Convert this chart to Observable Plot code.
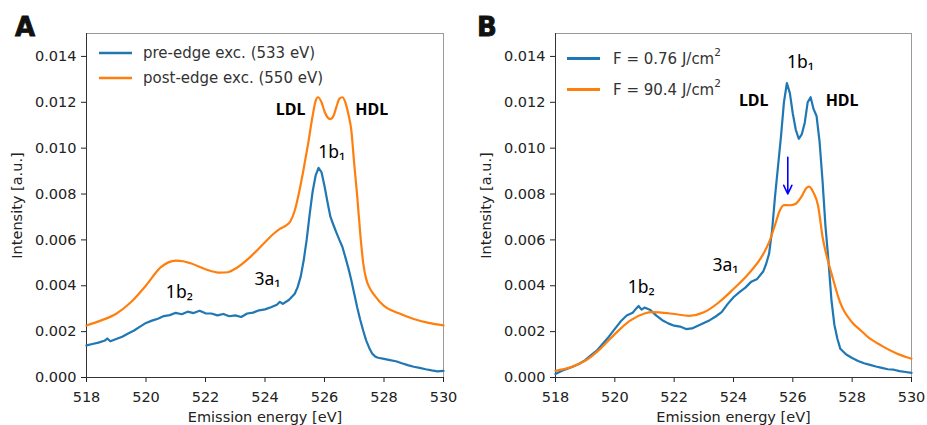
<!DOCTYPE html>
<html><head><meta charset="utf-8">
<script src="https://cdn.jsdelivr.net/npm/d3@7"></script>
<script src="https://cdn.jsdelivr.net/npm/@observablehq/plot@0.6"></script>
<style>
html,body{margin:0;padding:0;background:#fff;}
#wrap{position:relative;width:927px;height:425px;overflow:hidden;}
.pan{position:absolute;top:0;}
#ov{position:absolute;left:0;top:0;pointer-events:none;}
</style></head><body>
<div id="wrap">
<div id="pa" class="pan" style="left:0px"></div>
<div id="pb" class="pan" style="left:463px"></div>
<svg id="ov" width="927" height="425" font-family="DejaVu Sans, sans-serif">
  <text x="15" y="36" font-weight="bold" font-size="26" fill="#111" stroke="#111" stroke-width="0.8">A</text>
  <text x="477" y="36" font-weight="bold" font-size="26" fill="#111" stroke="#111" stroke-width="0.8">B</text>
  <line x1="99" x2="132" y1="53" y2="53" stroke="#1f77b4" stroke-width="2.5"/>
  <text x="143" y="53" dominant-baseline="central" font-size="15" fill="#333">pre-edge exc. (533 eV)</text>
  <line x1="99" x2="132" y1="78" y2="78" stroke="#ff7f0e" stroke-width="2.5"/>
  <text x="143" y="78" dominant-baseline="central" font-size="15" fill="#333">post-edge exc. (550 eV)</text>
  <line x1="567" x2="600" y1="58.5" y2="58.5" stroke="#1f77b4" stroke-width="3"/>
  <text x="613" y="58.5" dominant-baseline="central" font-size="15" fill="#333">F = 0.76 J/cm<tspan dy="-7" font-size="10.5">2</tspan></text>
  <line x1="567" x2="600" y1="89.5" y2="89.5" stroke="#ff7f0e" stroke-width="3"/>
  <text x="613" y="89.5" dominant-baseline="central" font-size="15" fill="#333">F = 90.4 J/cm<tspan dy="-7" font-size="10.5">2</tspan></text>
</svg>
</div>
<script>
// ---- ticks ----
const xTicks = [518, 520, 522, 524, 526, 528, 530];
const yTicks = [0, 0.002, 0.004, 0.006, 0.008, 0.010, 0.012, 0.014];

// ---- Panel A: pre-edge excitation (533 eV) ----
const aPreE = [518.0,518.2,518.4,518.6,518.7,518.8,519.0,519.2,519.4,519.6,519.8,520.0,520.2,520.4,520.6,520.8,521.0,521.2,521.4,521.6,521.8,522.0,522.2,522.4,522.6,522.8,523.0,523.2,523.4,523.6,523.8,524.0,524.2,524.4,524.5,524.6,524.8,525.0,525.1,525.2,525.3,525.4,525.5,525.6,525.7,525.8,525.9,526.0,526.1,526.2,526.3,526.4,526.5,526.6,526.7,526.8,526.9,527.0,527.1,527.2,527.3,527.4,527.5,527.6,527.7,527.8,528.0,528.2,528.4,528.6,528.8,529.0,529.2,529.4,529.6,529.8,530.0];
const aPreI = [0.00140,0.00146,0.00152,0.00160,0.00170,0.00158,0.00168,0.00178,0.00192,0.00205,0.00222,0.00238,0.00248,0.00256,0.00268,0.00272,0.00282,0.00276,0.00287,0.00281,0.00291,0.00280,0.00279,0.00271,0.00277,0.00267,0.00271,0.00264,0.00279,0.00283,0.00293,0.00297,0.00306,0.00317,0.00330,0.00321,0.00338,0.00365,0.00395,0.00440,0.00510,0.00600,0.00710,0.00810,0.00880,0.00914,0.00895,0.00835,0.00765,0.00700,0.00665,0.00632,0.00600,0.00570,0.00525,0.00478,0.00425,0.00365,0.00305,0.00252,0.00205,0.00162,0.00130,0.00105,0.00092,0.00086,0.00081,0.00076,0.00071,0.00062,0.00054,0.00047,0.00042,0.00036,0.00031,0.00027,0.00029];

// ---- Panel A: post-edge excitation (550 eV) ----
const aPostE = [518.0,518.5,519.0,519.5,520.0,520.5,520.75,521.0,521.25,521.5,522.0,522.5,522.75,523.0,523.5,524.0,524.3,524.5,524.7,524.85,525.0,525.15,525.3,525.45,525.6,525.7,525.78,525.9,526.0,526.1,526.2,526.3,526.4,526.5,526.6,526.7,526.8,526.9,527.0,527.1,527.2,527.3,527.4,527.5,527.7,528.0,528.5,529.0,529.5,530.0];
const aPostI = [0.00227,0.00249,0.00278,0.00329,0.00401,0.00481,0.00502,0.00510,0.00507,0.00498,0.00472,0.00457,0.00459,0.00474,0.00525,0.00590,0.00628,0.00648,0.00662,0.00680,0.00728,0.00810,0.00910,0.01020,0.01140,0.01205,0.01222,0.01200,0.01160,0.01135,0.01127,0.01140,0.01180,0.01215,0.01222,0.01200,0.01150,0.01080,0.00930,0.00790,0.00630,0.00500,0.00430,0.00395,0.00355,0.00312,0.00280,0.00255,0.00238,0.00227];

// ---- Panel B: F = 0.76 J/cm2 ----
const bLowE = [518.0,518.2,518.4,518.6,518.8,519.0,519.2,519.4,519.6,519.8,520.0,520.2,520.4,520.6,520.7,520.8,520.9,521.0,521.2,521.4,521.6,521.8,522.0,522.2,522.4,522.6,522.8,523.0,523.2,523.4,523.6,523.8,524.0,524.2,524.4,524.6,524.8,525.0,525.1,525.2,525.3,525.4,525.5,525.6,525.7,525.8,525.9,526.0,526.1,526.2,526.3,526.4,526.5,526.6,526.7,526.8,526.9,527.0,527.1,527.2,527.3,527.4,527.5,527.6,527.8,528.0,528.2,528.4,528.6,528.8,529.0,529.2,529.4,529.6,529.8,530.0];
const bLowI = [0.00015,0.00028,0.00038,0.00048,0.00060,0.00076,0.00098,0.00118,0.00148,0.00178,0.00212,0.00245,0.00270,0.00282,0.00298,0.00312,0.00296,0.00305,0.00294,0.00270,0.00250,0.00236,0.00226,0.00222,0.00211,0.00214,0.00226,0.00238,0.00250,0.00266,0.00285,0.00320,0.00350,0.00372,0.00392,0.00418,0.00430,0.00462,0.00495,0.00540,0.00640,0.00790,0.00920,0.01050,0.01200,0.01284,0.01240,0.01150,0.01080,0.01041,0.01060,0.01110,0.01200,0.01222,0.01170,0.01140,0.01030,0.00860,0.00660,0.00510,0.00340,0.00230,0.00170,0.00125,0.00100,0.00085,0.00072,0.00062,0.00055,0.00048,0.00042,0.00036,0.00034,0.00028,0.00024,0.00020];

// ---- Panel B: F = 90.4 J/cm2 ----
const bHighE = [518.0,518.5,519.0,519.5,520.0,520.5,521.0,521.25,521.5,522.0,522.5,523.0,523.5,524.0,524.5,525.0,525.2,525.4,525.55,525.7,525.9,526.1,526.3,526.45,526.55,526.7,526.85,527.0,527.15,527.3,527.6,528.0,528.3,528.5,529.0,529.5,530.0];
const bHighI = [0.00029,0.00044,0.00073,0.00124,0.00189,0.00247,0.00279,0.00285,0.00284,0.00277,0.00269,0.00284,0.00327,0.00386,0.00451,0.00538,0.00590,0.00665,0.00725,0.00752,0.00751,0.00758,0.00790,0.00825,0.00832,0.00805,0.00750,0.00615,0.00525,0.00455,0.00325,0.00240,0.00204,0.00180,0.00138,0.00105,0.00082];

// ---- annotations ----
const aBoldText = ["LDL", "HDL"];
const aBoldX = [524.86, 527.59];
const aBoldY = [0.01168, 0.01168];
const aText = ["1b\u2081", "3a\u2081", "1b\u2082"];
const aTextX = [526.24, 524.08, 521.12];
const aTextY = [0.0098, 0.00427, 0.0037];

const bBoldText = ["LDL", "HDL"];
const bBoldX = [524.68, 527.66];
const bBoldY = [0.01208, 0.01208];
const bText = ["1b\u2081", "3a\u2081", "1b\u2082"];
const bTextX = [526.26, 523.73, 520.89];
const bTextY = [0.01375, 0.00488, 0.00393];

const bArrowX = [525.83];
const bArrowY1 = [0.0096];
const bArrowY2 = [0.0080];

const BLUE = "#1f77b4", ORANGE = "#ff7f0e";

function zip(xs, ys) { return xs.map((x, i) => ({x, y: ys[i]})); }
function zipText(t, xs, ys) { return t.map((s, i) => ({t: s, x: xs[i], y: ys[i]})); }

function panel({width, marginLeft, marginRight, s1, s2, bold, reg, extra}) {
  return Plot.plot({
    width, height: 425,
    marginLeft, marginRight, marginTop: 33, marginBottom: 48,
    style: {fontFamily: "DejaVu Sans, sans-serif", fontSize: "14.5px", color: "#222", background: "transparent", overflow: "visible"},
    x: {domain: [518, 530]},
    y: {domain: [0, 0.015]},
    marks: [
      Plot.frame({stroke: "#9a9a9a"}),
      Plot.axisX({ticks: xTicks, tickSize: 5, tickPadding: 9, tickFormat: d => String(d),
        label: "Emission energy [eV]", labelAnchor: "center", labelArrow: "none", labelOffset: 44}),
      Plot.axisY({ticks: yTicks, tickSize: 5, tickPadding: 5, tickFormat: d3.format(".3f"),
        label: "Intensity [a.u.]", labelAnchor: "center", labelArrow: "none", labelOffset: 75}),
      Plot.ruleX([518], {stroke: "#333"}),
      Plot.ruleY([0], {stroke: "#333"}),
      Plot.line(s1, {x: "x", y: "y", stroke: BLUE, strokeWidth: 2.2, curve: "linear"}),
      Plot.line(s2, {x: "x", y: "y", stroke: ORANGE, strokeWidth: 2.2, curve: "monotone-x"}),
      Plot.text(bold, {x: "x", y: "y", text: "t", fontWeight: "bold", fontSize: 16, fill: "#000", fontFamily: "Noto Sans, DejaVu Sans, sans-serif"}),
      Plot.text(reg, {x: "x", y: "y", text: "t", fontSize: 17.5, fill: "#000", fontFamily: "Noto Sans, DejaVu Sans, sans-serif"}),
      ...(extra || [])
    ]
  });
}

const chartA = panel({
  width: 463, marginLeft: 86, marginRight: 20,
  s1: zip(aPreE, aPreI), s2: zip(aPostE, aPostI),
  bold: zipText(aBoldText, aBoldX, aBoldY), reg: zipText(aText, aTextX, aTextY)
});
document.getElementById("pa").appendChild(chartA);

const arrows = bArrowX.map((x, i) => ({x, y1: bArrowY1[i], y2: bArrowY2[i]}));
const chartB = panel({
  width: 464, marginLeft: 92, marginRight: 16,
  s1: zip(bLowE, bLowI), s2: zip(bHighE, bHighI),
  bold: zipText(bBoldText, bBoldX, bBoldY), reg: zipText(bText, bTextX, bTextY),
  extra: [Plot.arrow(arrows, {x1: "x", x2: "x", y1: "y1", y2: "y2", stroke: "#0000ff", strokeWidth: 1.6, headLength: 9, headAngle: 50, bend: 0})]
});
document.getElementById("pb").appendChild(chartB);
</script>
</body></html>
